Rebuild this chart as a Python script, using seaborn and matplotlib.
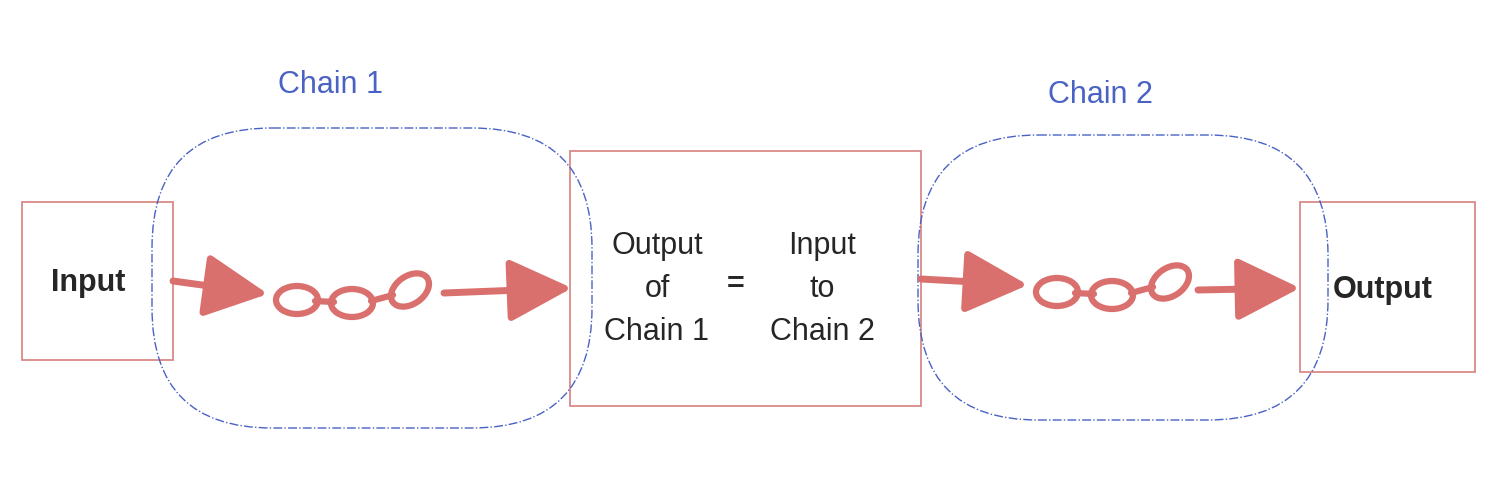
import matplotlib.pyplot as plt
import seaborn as sns
from matplotlib.patches import Rectangle, FancyBboxPatch, Ellipse

sns.set_theme(style="white")
plt.rcParams['font.family'] = ['Liberation Sans', 'DejaVu Sans']

RED = "#d9706e"
BOX = "#d98a88"
BLUE = "#4a62c4"

# boxes: (x0, y0, x1, y1) in pixel space
box_names = ["Input", "Middle", "Output"]
box_extents = [(22, 202, 173, 360), (570, 151, 921, 406), (1300, 202, 1475, 372)]
region_labels = ["Chain 1", "Chain 2"]
region_extents = [(152, 128, 592, 428), (918, 135, 1328, 420)]
label_pos = [(330, 85), (1100, 95)]
arrows = [((173, 281), (268, 294)), ((444, 293), (572, 288)),
          ((921, 279), (1028, 285)), ((1198, 290), (1300, 288))]
chain_origins = [(297, 300), (1057, 292)]

fig = plt.figure(figsize=(15.02, 4.92), dpi=100)
ax = fig.add_axes([0, 0, 1, 1])
ax.set_xlim(0, 1502)
ax.set_ylim(492, 0)
ax.axis("off")

for (x0, y0, x1, y1) in box_extents:
    ax.add_patch(Rectangle((x0, y0), x1 - x0, y1 - y0, fill=False, ec=BOX, lw=1.3))

for (x0, y0, x1, y1), lab, (lx, ly) in zip(region_extents, region_labels, label_pos):
    ax.add_patch(FancyBboxPatch((x0, y0), x1 - x0, y1 - y0,
                                boxstyle="round,pad=0,rounding_size=120",
                                fill=False, ec=BLUE, lw=1.0, ls="-."))
    ax.text(lx, ly, lab, color=BLUE, fontsize=22, ha="center", va="center")

for (s, e) in arrows:
    ax.annotate("", xy=e, xytext=s,
                arrowprops=dict(arrowstyle="-|>,head_length=1.3,head_width=0.65",
                                lw=5, color=RED, mutation_scale=30, shrinkA=0, shrinkB=0))

# chain links
offsets = [(0, 0, 0), (55, 3, 0), (113, -10, -35)]
for (cx, cy) in chain_origins:
    for dx, dy, ang in offsets:
        ax.add_patch(Ellipse((cx + dx, cy + dy), 42, 28, angle=ang,
                             fill=False, ec=RED, lw=4.5))
    ax.plot([cx + 18, cx + 37], [cy + 1, cy + 2], color=RED, lw=4.5)
    ax.plot([cx + 74, cx + 96], [cy + 1, cy - 5], color=RED, lw=4.5)

ax.text(88, 283, "Input", fontsize=22, fontweight="bold", ha="center", va="center")
ax.text(1383, 290, "Output", fontsize=22, fontweight="bold", ha="center", va="center")
ax.text(657, 289, "Output\nof\nChain 1", fontsize=22, ha="center", va="center", linespacing=1.55)
ax.text(822, 289, "Input\nto\nChain 2", fontsize=22, ha="center", va="center", linespacing=1.55)
ax.text(736, 285, "=", fontsize=22, fontweight="bold", ha="center", va="center")

fig.savefig("out.png", dpi=100)
